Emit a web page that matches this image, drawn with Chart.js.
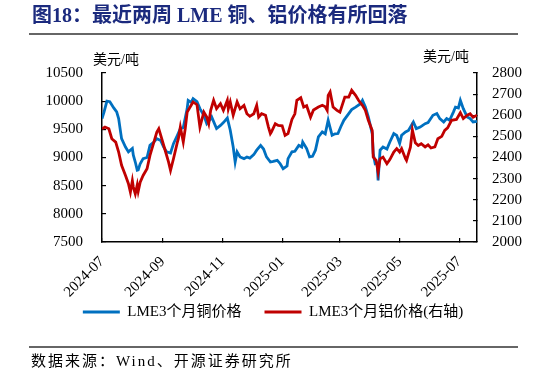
<!DOCTYPE html>
<html>
<head>
<meta charset="utf-8">
<script src="https://cdn.jsdelivr.net/npm/chart.js@4.4.1/dist/chart.umd.min.js"></script>
<style>
    body { margin: 0; background: #fff; }
    #wrap { position: relative; width: 546px; height: 377px; overflow: hidden; }
    #chart-1 { position: absolute; left: 0; top: 0; }
    .txt { position: absolute; white-space: nowrap; font-family: "Liberation Serif", "Noto Sans CJK SC", serif; color: #000; }
    #title { left: 32px; top: 3px; font-size: 20px; line-height: 24px; font-weight: bold; color: #1b2a7e; }
    .rule { position: absolute; left: 29px; width: 489px; height: 1.5px; background: #666; }
    .unit { font-size: 14px; line-height: 16px; }
    #source { left: 31px; top: 352px; font-size: 15px; line-height: 18px; letter-spacing: 2px; }
</style>
</head>
<body>
<div id="wrap">
    <canvas id="chart-1" width="546" height="377"></canvas>
    <div class="txt" id="title">图18：最近两周 LME 铜、铝价格有所回落</div>
    <div class="rule" style="top:33px"></div>
    <div class="txt unit" style="left:93px; top:52px">美元/吨</div>
    <div class="txt unit" style="left:423px; top:49px">美元/吨</div>
    <div class="rule" style="top:346px"></div>
    <div class="txt" id="source">数据来源：Wind、开源证券研究所</div>
</div>
<script>
// Dữ liệu: giá đồng LME 3 tháng (trục trái)
const copperDates = [
    '2024-07-01', '2024-07-03', '2024-07-06', '2024-07-09', '2024-07-13', '2024-07-16', '2024-07-18', '2024-07-20',
    '2024-07-21', '2024-07-25', '2024-07-28', '2024-08-01', '2024-08-02', '2024-08-04', '2024-08-06', '2024-08-07',
    '2024-08-09', '2024-08-12', '2024-08-16', '2024-08-19', '2024-08-23', '2024-08-26', '2024-08-30', '2024-09-02',
    '2024-09-05', '2024-09-09', '2024-09-12', '2024-09-16', '2024-09-19', '2024-09-22', '2024-09-26', '2024-09-27',
    '2024-09-30', '2024-10-02', '2024-10-06', '2024-10-09', '2024-10-13', '2024-10-16', '2024-10-20', '2024-10-21',
    '2024-10-26', '2024-10-30', '2024-11-02', '2024-11-06', '2024-11-09', '2024-11-12', '2024-11-14', '2024-11-16',
    '2024-11-19', '2024-11-23', '2024-11-26', '2024-11-29', '2024-12-03', '2024-12-06', '2024-12-10', '2024-12-13',
    '2024-12-16', '2024-12-20', '2024-12-23', '2024-12-27', '2024-12-30', '2025-01-02', '2025-01-06', '2025-01-07',
    '2025-01-11', '2025-01-14', '2025-01-18', '2025-01-21', '2025-01-22', '2025-01-26', '2025-01-29', '2025-02-01',
    '2025-02-04', '2025-02-07', '2025-02-11', '2025-02-14', '2025-02-17', '2025-02-21', '2025-02-24', '2025-02-27',
    '2025-03-02', '2025-03-05', '2025-03-10', '2025-03-13', '2025-03-17', '2025-03-22', '2025-03-24', '2025-03-27',
    '2025-03-30', '2025-04-03', '2025-04-04', '2025-04-06', '2025-04-08', '2025-04-09', '2025-04-11', '2025-04-14',
    '2025-04-18', '2025-04-21', '2025-04-25', '2025-04-28', '2025-05-01', '2025-05-03', '2025-05-07', '2025-05-10',
    '2025-05-15', '2025-05-18', '2025-05-22', '2025-05-27', '2025-05-30', '2025-06-04', '2025-06-08', '2025-06-11',
    '2025-06-15', '2025-06-18', '2025-06-21', '2025-06-25', '2025-06-27', '2025-06-30', '2025-07-02', '2025-07-05',
    '2025-07-09', '2025-07-12', '2025-07-15', '2025-07-19'
];
const copperPrices = [
    9690, 9800, 10000, 9990, 9880, 9810, 9690, 9450,
    9335, 9185, 9100, 9160, 9040, 8920, 8775, 8780,
    8890, 8980, 9000, 9215, 9275, 9335, 9300, 9185,
    9100, 9080, 9245, 9395, 9513, 9530, 9868, 10015,
    9980, 10045, 9990, 9868, 9750, 9600, 9690, 9720,
    9513, 9570, 9620, 9700, 9483, 9185, 8920, 9100,
    9010, 8980, 9010, 8990, 9050, 9130, 9215, 9150,
    9010, 8920, 8930, 8950, 8890, 8800, 8850, 8980,
    9100, 9110, 9215, 9185, 9275, 9160, 9010, 9020,
    9130, 9365, 9455, 9420, 9660, 9395, 9420, 9425,
    9550, 9660, 9780, 9850, 9895, 9955, 10015, 9895,
    9720, 9425, 9070, 8890, 8900, 8595, 9130, 9185,
    9150, 9275, 9425, 9390, 9250, 9395, 9455, 9480,
    9630, 9513, 9540, 9600, 9620, 9750, 9780, 9690,
    9630, 9690, 9660, 9810, 9895, 9880, 10015, 9868,
    9720, 9690, 9630, 9640
];

// Giá nhôm LME 3 tháng (trục phải)
const aluminiumDates = [
    '2024-07-01', '2024-07-04', '2024-07-08', '2024-07-11', '2024-07-15', '2024-07-18', '2024-07-21', '2024-07-25',
    '2024-07-28', '2024-07-30', '2024-08-01', '2024-08-02', '2024-08-04', '2024-08-06', '2024-08-07', '2024-08-09',
    '2024-08-12', '2024-08-16', '2024-08-19', '2024-08-23', '2024-08-26', '2024-08-28', '2024-08-31', '2024-09-04',
    '2024-09-07', '2024-09-09', '2024-09-12', '2024-09-16', '2024-09-17', '2024-09-19', '2024-09-22', '2024-09-24',
    '2024-09-26', '2024-09-29', '2024-10-02', '2024-10-06', '2024-10-09', '2024-10-13', '2024-10-16', '2024-10-18',
    '2024-10-20', '2024-10-23', '2024-10-26', '2024-10-30', '2024-11-02', '2024-11-06', '2024-11-07', '2024-11-09',
    '2024-11-12', '2024-11-16', '2024-11-19', '2024-11-23', '2024-11-26', '2024-11-29', '2024-12-03', '2024-12-06',
    '2024-12-08', '2024-12-11', '2024-12-15', '2024-12-18', '2024-12-20', '2024-12-21', '2024-12-25', '2024-12-28',
    '2025-01-01', '2025-01-04', '2025-01-07', '2025-01-11', '2025-01-14', '2025-01-16', '2025-01-20', '2025-01-23',
    '2025-01-26', '2025-01-30', '2025-02-02', '2025-02-07', '2025-02-11', '2025-02-14', '2025-02-16', '2025-02-17',
    '2025-02-19', '2025-02-22', '2025-02-26', '2025-03-01', '2025-03-06', '2025-03-10', '2025-03-13', '2025-03-17',
    '2025-03-20', '2025-03-24', '2025-03-27', '2025-03-30', '2025-04-03', '2025-04-04', '2025-04-07', '2025-04-09',
    '2025-04-11', '2025-04-14', '2025-04-18', '2025-04-21', '2025-04-25', '2025-04-28', '2025-05-01', '2025-05-03',
    '2025-05-07', '2025-05-08', '2025-05-12', '2025-05-14', '2025-05-17', '2025-05-20', '2025-05-23', '2025-05-27',
    '2025-05-30', '2025-06-02', '2025-06-06', '2025-06-09', '2025-06-13', '2025-06-16', '2025-06-19', '2025-06-23',
    '2025-06-28', '2025-07-02', '2025-07-05', '2025-07-09', '2025-07-12', '2025-07-15', '2025-07-19'
];
const aluminiumPrices = [
    2536, 2544, 2536, 2489, 2473, 2426, 2363, 2315,
    2276, 2236, 2290, 2260, 2228, 2270, 2240, 2283,
    2315, 2347, 2410, 2473, 2520, 2536, 2489, 2426,
    2378, 2339, 2394, 2473, 2489, 2544, 2473, 2536,
    2615, 2639, 2663, 2650, 2544, 2615, 2591, 2560,
    2623, 2671, 2631, 2655, 2623, 2671, 2630, 2663,
    2600, 2663, 2631, 2647, 2607, 2595, 2607, 2647,
    2591, 2607, 2600, 2544, 2513, 2520, 2560, 2552,
    2550, 2505, 2513, 2580, 2607, 2671, 2683, 2639,
    2645, 2591, 2625, 2639, 2647, 2640, 2623, 2694,
    2710, 2639, 2623, 2615, 2686, 2686, 2718, 2694,
    2671, 2647, 2623, 2576, 2528, 2402, 2386, 2331,
    2394, 2402, 2371, 2390, 2426, 2442, 2426, 2442,
    2394, 2386, 2449, 2530, 2470, 2457, 2465, 2450,
    2460, 2445, 2450, 2489, 2500, 2528, 2540, 2576,
    2580, 2612, 2584, 2600, 2607, 2591, 2600
];

// Nhãn trục
const monthLabels = ['2024-07', '2024-09', '2024-11', '2025-01', '2025-03', '2025-05', '2025-07'];
const leftTicks = [7500, 8000, 8500, 9000, 9500, 10000, 10500];
const rightTicks = [2000, 2100, 2200, 2300, 2400, 2500, 2600, 2700, 2800];

const startDate = '2024-07-01';

// Đổi ngày thành số ngày kể từ ngày bắt đầu
function dayOffset(dateStr) {
    const [y, m, d] = dateStr.split('-').map(Number);
    const [y0, m0, d0] = startDate.split('-').map(Number);
    return (Date.UTC(y, m - 1, d) - Date.UTC(y0, m0 - 1, d0)) / 86400000;
}

function toPoints(dates, values) {
    return dates.map((d, i) => ({x: dayOffset(d), y: values[i]}));
}

const serif = '"Liberation Serif", "Noto Sans CJK SC", serif';
const tickFont = {family: serif, size: 15};

document.addEventListener('DOMContentLoaded', function () {
    const ctx = document.getElementById('chart-1').getContext('2d');

    new Chart(ctx, {
        type: 'line',
        data: {
            datasets: [{
                label: 'LME3个月铜价格',
                data: toPoints(copperDates, copperPrices),
                borderColor: '#0070c0',
                backgroundColor: '#0070c0',
                borderWidth: 2.8,
                pointRadius: 0,
                yAxisID: 'y',
                order: 1
            }, {
                label: 'LME3个月铝价格(右轴)',
                data: toPoints(aluminiumDates, aluminiumPrices),
                borderColor: '#c00000',
                backgroundColor: '#c00000',
                borderWidth: 2.8,
                pointRadius: 0,
                yAxisID: 'y1',
                order: 0
            }]
        },
        options: {
            responsive: false,
            animation: false,
            devicePixelRatio: 1,
            layout: {
                padding: {top: 73, bottom: 47.5, left: 0, right: 0}
            },
            plugins: {
                legend: {
                    position: 'bottom',
                    labels: {
                        usePointStyle: true,
                        pointStyle: 'line',
                        pointStyleWidth: 37,
                        boxHeight: 3,
                        padding: 23,
                        color: '#000',
                        font: {family: serif, size: 15},
                        sort: (a, b) => a.datasetIndex - b.datasetIndex
                    }
                },
                tooltip: {enabled: false}
            },
            scales: {
                x: {
                    type: 'linear',
                    min: 0,
                    max: dayOffset(copperDates[copperDates.length - 1]),
                    afterBuildTicks: scale => {
                        scale.ticks = monthLabels.map(m => ({value: dayOffset(m + '-01')}));
                    },
                    afterFit: scale => {
                        scale.height = 39.5;
                        // nhãn xoay dài hơn chiều cao trục, không cắt nhãn
                        scale._computeLabelArea = () => undefined;
                    },
                    border: {color: '#000', width: 1.5},
                    grid: {drawOnChartArea: false, tickLength: -4, color: '#000', lineWidth: 1.2},
                    ticks: {
                        autoSkip: false,
                        maxRotation: 45,
                        minRotation: 45,
                        padding: 15,
                        color: '#000',
                        font: tickFont,
                        callback: value => {
                            const idx = monthLabels.findIndex(m => dayOffset(m + '-01') === value);
                            return idx >= 0 ? monthLabels[idx] : '';
                        }
                    }
                },
                y: {
                    position: 'left',
                    min: 7500,
                    max: 10500,
                    afterBuildTicks: scale => {
                        scale.ticks = leftTicks.map(v => ({value: v}));
                    },
                    afterFit: scale => { scale.width = 102; },
                    border: {color: '#000', width: 1.5},
                    grid: {drawOnChartArea: false, tickLength: -4, color: '#000', lineWidth: 1.2},
                    ticks: {padding: 23, color: '#000', font: tickFont, callback: v => String(v)}
                },
                y1: {
                    position: 'right',
                    min: 2000,
                    max: 2800,
                    afterBuildTicks: scale => {
                        scale.ticks = rightTicks.map(v => ({value: v}));
                    },
                    afterFit: scale => { scale.width = 69; },
                    border: {color: '#000', width: 1.5},
                    grid: {drawOnChartArea: false, tickLength: -4, color: '#000', lineWidth: 1.2},
                    ticks: {padding: 19, color: '#000', font: tickFont, callback: v => String(v)}
                }
            }
        }
    });
});
</script>
</body>
</html>
